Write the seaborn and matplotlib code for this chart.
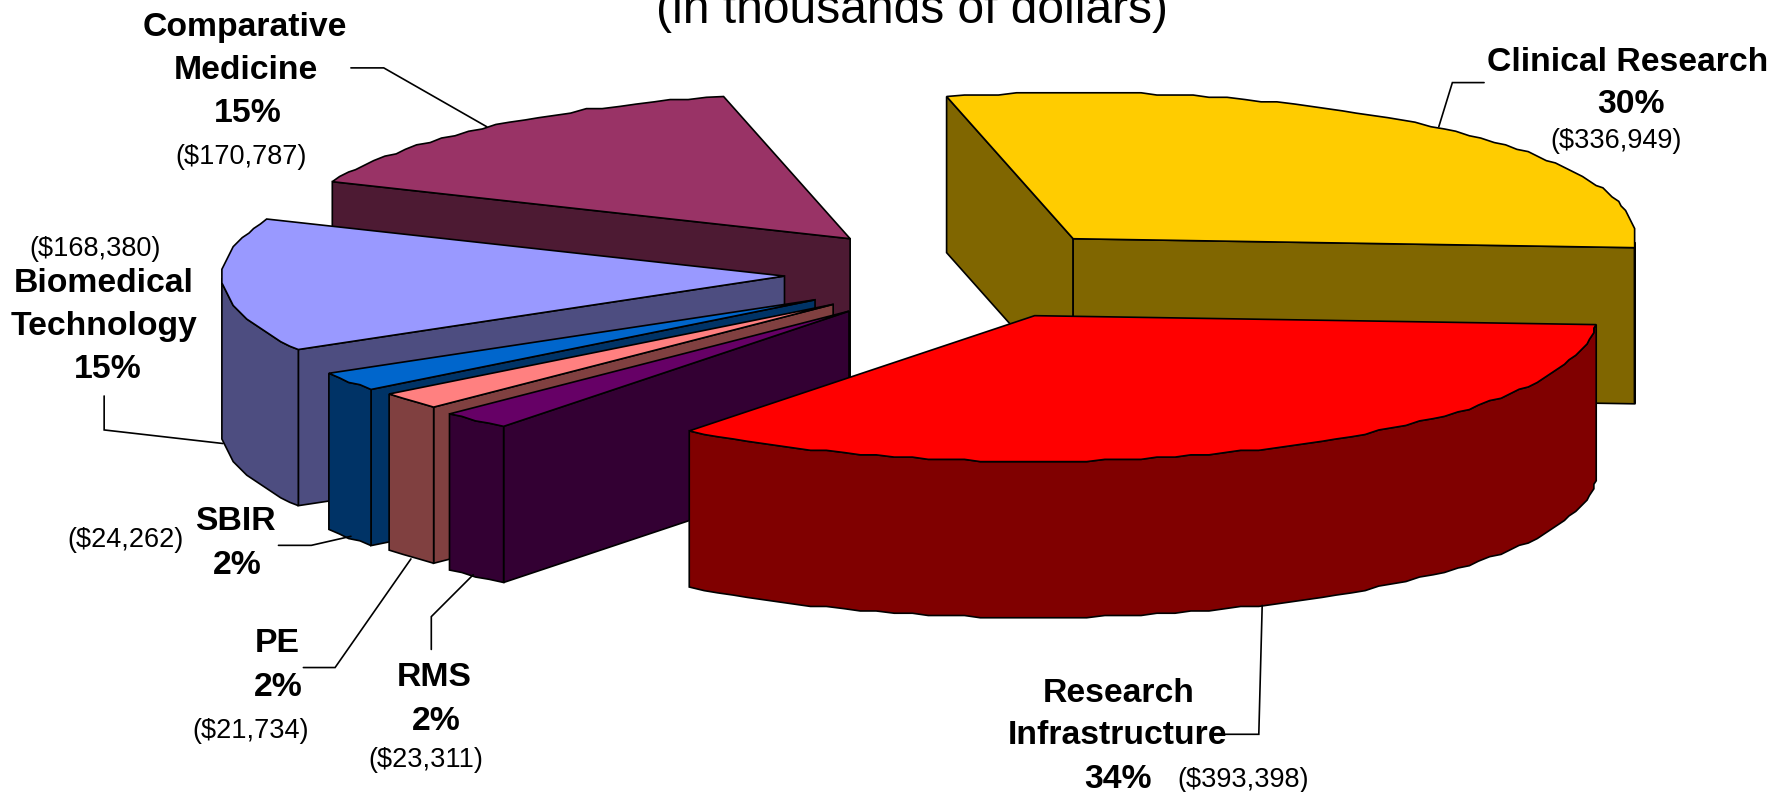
import numpy as np
import matplotlib
matplotlib.use("Agg")
import matplotlib.pyplot as plt
from matplotlib.patches import Polygon
import seaborn as sns

# ---- data ----
categories = ["Clinical Research", "Research Infrastructure", "RMS", "PE", "SBIR",
              "Biomedical Technology", "Comparative Medicine"]
values = [336949, 393398, 23311, 21734, 24262, 168380, 170787]
percents = ["30%", "34%", "2%", "2%", "2%", "15%", "15%"]
amounts = ["($336,949)", "($393,398)", "($23,311)", "($21,734)", "($24,262)",
           "($168,380)", "($170,787)"]
title_text = "(in thousands of dollars)"

# ---- styles / layout (coordinates in a 1568x700 frame) ----
top_colors = ["#FFCC00", "#FF0000", "#660066", "#FF8080", "#0066CC", "#9999FF", "#993366"]
side_colors = ["#806600", "#800000", "#330033", "#804040", "#003366", "#4D4D80", "#4D1A33"]
apex = [(948, 211), (914, 279), (750, 275), (736, 269), (720, 265), (693, 244), (751, 211)]
draw_order = [6, 5, 0, 4, 3, 2, 1]
RX, RY, DEPTH = 497, 129, 138
START = 103.0

bold_labels = [
    (1438, 55, "Clinical Research"), (1441, 92, "30%"),
    (988, 613, "Research"), (987, 650, "Infrastructure"), (988, 689, "34%"),
    (384, 599, "RMS"), (385, 638, "2%"),
    (245, 569, "PE"), (246, 608, "2%"),
    (208, 461, "SBIR"), (210, 500, "2%"),
    (92, 251, "Biomedical"), (92, 289, "Technology"), (95, 327, "15%"),
    (216, 24, "Comparative"), (217, 62, "Medicine"), (219, 100, "15%"),
]
amount_pos = [(1428, 125), (1098, 689), (376, 672), (221, 646), (111, 477), (84, 220), (213, 139)]
leaders = [
    [(1311, 73), (1283, 73), (1271, 112)],
    [(1082, 649), (1112, 649), (1115, 535)],
    [(381, 574), (381, 545), (418, 508)],
    [(268, 590), (296, 590), (363, 494)],
    [(246, 482), (275, 482), (310, 474)],
    [(92, 350), (92, 380), (197, 392)],
    [(310, 60), (339, 60), (430, 112)],
]

sns.set_theme(style="white")
plt.rcParams["font.family"] = ["Liberation Sans", "DejaVu Sans"]

fig, ax = plt.subplots(figsize=(17.75, 7.92), dpi=100)
fig.subplots_adjust(0, 0, 1, 1)
ax.set_xlim(0, 1568)
ax.set_ylim(700, 0)
sns.despine(ax=ax, left=True, bottom=True)
ax.set_xticks([])
ax.set_yticks([])
ax.set_facecolor("white")

# angular extents come from the values
spans = 360.0 * np.array(values) / np.sum(values)
ends = START - np.cumsum(spans)
starts = ends + spans


def rim(cx, cy, t0, t1, grain=2.0):
    """Rim of the ellipse, slightly stepped like the reference's faceted outline."""
    n = max(int(abs(t0 - t1) / 1.8), 2)
    t = np.radians(np.linspace(t0, t1, n + 1))
    x = cx + RX * np.cos(t)
    y = cy - RY * np.sin(t)
    x[1:-1] = np.round(x[1:-1] / grain) * grain
    y[1:-1] = np.round(y[1:-1] / grain) * grain
    return np.column_stack([x, y])


edge = dict(edgecolor="black", linewidth=1.2, joinstyle="miter")
down = np.array([0, DEPTH])

for i in draw_order:
    cx, cy = apex[i]
    t0, t1 = starts[i], ends[i]
    top = rim(cx, cy, t0, t1)
    c = np.array([cx, cy], dtype=float)
    # radial walls that face the viewer
    if np.cos(np.radians(t0)) < 0:
        ax.add_patch(Polygon(np.array([c, top[0], top[0] + down, c + down]),
                             facecolor=side_colors[i], **edge))
    if np.cos(np.radians(t1)) > 0:
        ax.add_patch(Polygon(np.array([c, top[-1], top[-1] + down, c + down]),
                             facecolor=side_colors[i], **edge))
    # outer wall: only the front half of the rim is visible
    mids = np.radians(np.linspace(t0, t1, len(top)))
    front = top[np.sin(mids) <= 0]
    if len(front) > 1:
        ax.add_patch(Polygon(np.vstack([front, (front + down)[::-1]]),
                             facecolor=side_colors[i], **edge))
    ax.add_patch(Polygon(np.vstack([c, top]), facecolor=top_colors[i], **edge))

for pts in leaders:
    xs, ys = zip(*pts)
    ax.plot(xs, ys, color="black", lw=1.2, solid_joinstyle="miter", zorder=5)

for x, y, s in bold_labels:
    ax.text(x, y, s, ha="center", va="center", fontsize=24.3, fontweight="bold", color="black")
for (x, y), s in zip(amount_pos, amounts):
    ax.text(x, y, s, ha="center", va="center", fontsize=19.5, color="black")
ax.text(806, 20, title_text, ha="center", va="baseline", fontsize=34.5, color="black")

fig.savefig("out.png", dpi=100, facecolor="white")
